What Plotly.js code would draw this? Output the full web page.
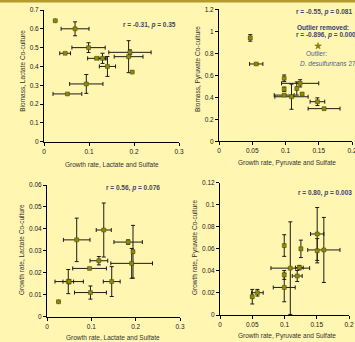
<!DOCTYPE html>
<html>
<head>
<meta charset="utf-8">
<script src="https://cdn.plot.ly/plotly-3.0.1.min.js"></script>
<style>
html,body{margin:0;padding:0;width:355px;height:342px;overflow:hidden;background:#FFF6B2;}
#chart{width:380px;height:342px;}
</style>
</head>
<body>
<div id="chart"></div>
<script>
// Panel A: biomass (lactate co-culture) vs growth rate (lactate & sulfate)
var lacBioX    = [0.025, 0.069, 0.099, 0.047, 0.117, 0.130, 0.141, 0.188, 0.191, 0.196, 0.094, 0.052];
var lacBioXerr = [0,     0.031, 0.037, 0.012, 0.020, 0.008, 0.018, 0.032, 0.047, 0,     0.037, 0.032];
var lacBioY    = [0.643, 0.600, 0.500, 0.470, 0.443, 0.443, 0.400, 0.452, 0.475, 0.370, 0.307, 0.254];
var lacBioYerr = [0,     0.037, 0.026, 0,     0.005, 0.027, 0.053, 0.085, 0.013, 0,     0.050, 0];

// Panel B: biomass (pyruvate co-culture) vs growth rate (pyruvate & sulfate)
var pyrBioX    = [0.047, 0.056, 0.098, 0.122, 0.098, 0.117, 0.125, 0.098, 0.109, 0.148, 0.158];
var pyrBioXerr = [0.002, 0.010, 0,     0.028, 0,     0,     0.002, 0.015, 0.025, 0.011, 0.024];
var pyrBioY    = [0.940, 0.703, 0.573, 0.527, 0.473, 0.480, 0.430, 0.420, 0.405, 0.360, 0.297];
var pyrBioYerr = [0.030, 0,     0.030, 0.033, 0.020, 0.060, 0.010, 0,     0.114, 0.035, 0.010];
var outlierX   = [0.149];
var outlierY   = [0.866];

// Panel C: growth rate (lactate co-culture) vs growth rate (lactate & sulfate)
var lacGrX    = [0.026, 0.067, 0.128, 0.096, 0.117, 0.183, 0.194, 0.191, 0.146, 0.048, 0.050, 0.098];
var lacGrXerr = [0,     0.030, 0.017, 0.038, 0.020, 0.032, 0,     0.047, 0.019, 0.012, 0.032, 0.036];
var lacGrY    = [0.0068, 0.035, 0.0395, 0.022, 0.0255, 0.034, 0.0296, 0.0243, 0.016, 0.016, 0.016, 0.011];
var lacGrYerr = [0,      0.0099, 0.0123, 0,    0.0019, 0.001, 0.012, 0.0068, 0.0068, 0.0055, 0.001, 0.003];

// Panel D: growth rate (pyruvate co-culture) vs growth rate (pyruvate & sulfate)
var pyrGrX    = [0.050, 0.058, 0.0996, 0.0996, 0.0996, 0.109, 0.123, 0.1197, 0.1254, 0.1507, 0.1507, 0.161];
var pyrGrXerr = [0.002, 0.009, 0,      0,      0.017,  0.030, 0.006, 0.0077, 0.002,  0.0103, 0,      0.025];
var pyrGrY    = [0.0166, 0.0202, 0.063, 0.0363, 0.025, 0.0425, 0.043, 0.0354, 0.060, 0.0735, 0.0583, 0.059];
var pyrGrYerr = [0.0066, 0.003, 0.0098, 0.004, 0.013, 0.042, 0.002, 0.005, 0.0079, 0.024, 0.011, 0.0295];

var xTitles = ["Growth rate, Lactate and Sulfate", "Growth rate, Pyruvate and Sulfate",
               "Growth rate, Lactate and Sulfate", "Growth rate, Pyruvate and Sulfate"];
var yTitles = ["Biomass, Lactate Co-culture", "Biomass, Pyruvate Co-culture",
               "Growth rate, Lactate Co-culture", "Growth rate, Pyruvate Co-culture"];
var statTexts = ["r = -0.31, <i>p</i> = 0.35", "r = -0.55, <i>p</i> = 0.081",
                 "r = 0.56, <i>p</i> = 0.076", "r = 0.80, <i>p</i> = 0.003"];

var W = 380, H = 342;
var FONT = "Liberation Sans, Arial, sans-serif";
var markerStyle = {symbol: "square", size: 4, color: "#8C8A0A", line: {color: "#4a4800", width: 0.5}};
function errStyle(arr) {
  return {type: "data", array: arr, visible: true, color: "#1c1c14", thickness: 1, width: 2};
}
function tr(x, y, xe, ye, xa, ya) {
  return {type: "scatter", mode: "markers", x: x, y: y, xaxis: xa, yaxis: ya,
          error_x: errStyle(xe), error_y: errStyle(ye), marker: markerStyle,
          showlegend: false, hoverinfo: "x+y"};
}
var data = [
  tr(lacBioX, lacBioY, lacBioXerr, lacBioYerr, "x", "y"),
  tr(pyrBioX, pyrBioY, pyrBioXerr, pyrBioYerr, "x2", "y2"),
  {type: "scatter", mode: "markers", x: outlierX, y: outlierY, xaxis: "x2", yaxis: "y2",
   marker: {symbol: "star", size: 5, color: "#8C8A0A", line: {color: "#6a6800", width: 0.5}},
   showlegend: false},
  tr(lacGrX, lacGrY, lacGrXerr, lacGrYerr, "x3", "y3"),
  tr(pyrGrX, pyrGrY, pyrGrXerr, pyrGrYerr, "x4", "y4")
];

function px(a, b) { return [a / W, b / W]; }
function py(bottom, top) { return [1 - bottom / H, 1 - top / H]; }
function axis(dom, rng, dt, anchor) {
  return {domain: dom, range: rng, dtick: dt, tick0: 0, anchor: anchor,
          showline: true, linecolor: "#000", linewidth: 1,
          showgrid: false, zeroline: false, ticks: "outside", ticklen: 3, tickcolor: "#000", tickwidth: 1,
          tickfont: {family: FONT, size: 6.5, color: "#222"}, fixedrange: true};
}
var statColor = "#44466a";
function ann(xp, yp, text, color, size, anchor, angle) {
  return {xref: "paper", yref: "paper", x: xp / W, y: 1 - yp / H, xanchor: anchor || "left", yanchor: "middle",
          text: text, showarrow: false, textangle: angle || 0,
          font: {family: FONT, size: size, color: color}};
}
var layout = {
  width: W, height: H,
  margin: {l: 0, r: 0, t: 0, b: 0},
  paper_bgcolor: "#FFF6B2", plot_bgcolor: "rgba(0,0,0,0)",
  font: {family: FONT},
  xaxis:  axis(px(44, 179), [0, 0.3], 0.1, "y"),
  yaxis:  axis(py(141.7, 10), [0, 0.7], 0.1, "x"),
  xaxis2: axis(px(219, 352), [0, 0.2], 0.05, "y2"),
  yaxis2: axis(py(141.3, 9.3), [0, 1.2], 0.2, "x2"),
  xaxis3: axis(px(47, 180), [0, 0.3], 0.1, "y3"),
  yaxis3: axis(py(316.7, 185), [0, 0.06], 0.01, "x3"),
  xaxis4: axis(px(220, 349), [0, 0.2], 0.05, "y4"),
  yaxis4: axis(py(315, 182.7), [0, 0.12], 0.02, "x4"),
  shapes: [
    {type: "rect", xref: "paper", yref: "paper", x0: 0, x1: 1, y0: 1 - 2.5 / H, y1: 1,
     fillcolor: "#B39A2C", line: {width: 0}}
  ],
  annotations: [
    // axis titles
    ann(112, 164, xTitles[0], "#333", 6.5, "center"),
    ann(287, 163, xTitles[1], "#333", 6.5, "center"),
    ann(113, 337.5, xTitles[2], "#333", 6.5, "center"),
    ann(287, 336, xTitles[3], "#333", 6.5, "center"),
    ann(21.7, 71, yTitles[0], "#333", 6.5, "center", -90),
    ann(198, 69, yTitles[1], "#333", 6.5, "center", -90),
    ann(21, 250, yTitles[2], "#333", 6.5, "center", -90),
    ann(195, 248, yTitles[3], "#333", 6.5, "center", -90),
    // statistics
    ann(121, 24.5, "<b>" + statTexts[0] + "</b>", statColor, 6.5),
    ann(294, 11.7, "<b>" + statTexts[1] + "</b>", statColor, 6.5),
    ann(295, 27.8, "<b>Outlier removed:</b>", "#2f3d78", 6.5),
    ann(294, 35.2, "<b>r = -0.896, <i>p</i> = 0.0005</b>", statColor, 6.5),
    ann(304, 53.3, "Outlier:", "#4c5da0", 6.5),
    ann(298, 63.5, "<i>D. desulfuricans</i> 27774", "#4c5da0", 6.5),
    ann(104, 188.3, "<b>" + statTexts[2] + "</b>", statColor, 6.5),
    ann(296, 192.7, "<b>" + statTexts[3] + "</b>", statColor, 6.5)
  ]
};
Plotly.newPlot("chart", data, layout, {displayModeBar: false, staticPlot: true});
</script>
</body>
</html>
